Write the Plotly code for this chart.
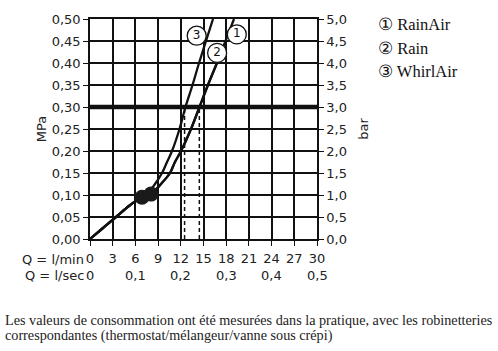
import plotly.graph_objects as go

# Flow rate Q (l/min) vs pressure P (MPa)
rainair_q = [0, 1.72, 3.44, 5.15, 5.95, 7.93, 9.38, 10.57, 11.23, 12.03, 13.35, 14.47, 15.59, 16.78, 17.91, 19.03]
rainair_p = [0, 0.025, 0.05, 0.075, 0.085, 0.10, 0.125, 0.15, 0.175, 0.20, 0.25, 0.30, 0.35, 0.40, 0.45, 0.50]
rain_q = [0, 1.72, 3.44, 5.15, 5.95, 7.93, 9.38, 10.57, 11.23, 12.03, 13.35, 14.47, 15.59, 16.78]
rain_p = [0, 0.025, 0.05, 0.075, 0.085, 0.10, 0.125, 0.15, 0.175, 0.20, 0.25, 0.30, 0.35, 0.40]
whirlair_q = [0, 1.72, 3.44, 5.15, 5.95, 7.40, 8.59, 9.52, 10.18, 10.84, 11.83, 12.62, 13.55, 14.41, 15.33, 16.26]
whirlair_p = [0, 0.025, 0.05, 0.075, 0.085, 0.10, 0.125, 0.15, 0.175, 0.20, 0.25, 0.30, 0.35, 0.40, 0.45, 0.50]

blob_q = [6.87, 8.06]
blob_p = [0.095, 0.102]

label_names = ["1", "2", "3"]
label_q = [19.4, 16.8, 14.1]
label_p = [0.465, 0.423, 0.462]

ref_pressure = 0.30
dashed_q = [12.5, 14.45]

lmin_ticks = [0, 3, 6, 9, 12, 15, 18, 21, 24, 27, 30]
lsec_pos = [0, 6, 12, 18, 24, 30]
lsec_labels = ["0", "0,1", "0,2", "0,3", "0,4", "0,5"]

legend_items = ["\u2460 RainAir", "\u2461 Rain", "\u2462 WhirlAir"]

note_lines = ["Les valeurs de consommation ont été mesurées dans la pratique, avec les robinetteries",
              "correspondantes (thermostat/mélangeur/vanne sous crépi)"]

INK = "#111111"
fig = go.Figure()

fig.add_trace(go.Scatter(x=[0, 30], y=[ref_pressure, ref_pressure], mode="lines",
                         line=dict(color=INK, width=4.5), hoverinfo="skip"))
for dq in dashed_q:
    fig.add_trace(go.Scatter(x=[dq, dq], y=[0, ref_pressure], mode="lines",
                             line=dict(color=INK, width=1.5, dash="4px,3px")))
for qq, pp in [(rainair_q, rainair_p), (rain_q, rain_p), (whirlair_q, whirlair_p)]:
    fig.add_trace(go.Scatter(x=qq, y=pp, mode="lines",
                             line=dict(color=INK, width=2.3, shape="spline", smoothing=1)))
fig.add_trace(go.Scatter(x=blob_q, y=blob_p, mode="markers",
                         marker=dict(size=15, color="#1a1a1a")))
fig.add_trace(go.Scatter(x=label_q, y=label_p, mode="markers+text", text=label_names,
                         textposition="middle center",
                         textfont=dict(family="DejaVu Sans", size=12, color=INK),
                         marker=dict(size=19, color="white", line=dict(color=INK, width=1.3))))
# invisible trace for bar axis
fig.add_trace(go.Scatter(x=[0, 30], y=[0, 5], yaxis="y2", mode="markers",
                         marker=dict(opacity=0), hoverinfo="skip"))

axfont = dict(family="DejaVu Sans", size=13, color="#222")
fig.update_layout(
    width=498, height=351,
    margin=dict(l=90, r=181, t=13, b=112),
    paper_bgcolor="white", plot_bgcolor="white",
    showlegend=False,
    separators=",.",
    xaxis=dict(range=[0, 30], tickvals=lmin_ticks, showgrid=True, gridcolor=INK, gridwidth=1.5,
               showline=True, linecolor=INK, linewidth=1.5, mirror=True, zeroline=False,
               ticks="outside", ticklen=5, tickcolor=INK, tickfont=axfont,
               ticklabelstandoff=2),
    yaxis=dict(range=[0, 0.5], dtick=0.05, tickformat=".2f", showgrid=True, gridcolor=INK,
               gridwidth=1.5, showline=True, linecolor=INK, linewidth=1.5, zeroline=False,
               ticks="outside", ticklen=5, tickcolor=INK, tickfont=axfont,
               title=dict(text="MPa", font=axfont, standoff=2)),
    yaxis2=dict(range=[0, 5], dtick=0.5, tickformat=".1f", overlaying="y", side="right",
                showgrid=False, showline=True, linecolor=INK, linewidth=1.5, zeroline=False,
                ticks="outside", ticklen=5, tickcolor=INK, tickfont=axfont,
                title=dict(text="bar", font=axfont, standoff=13)),
)

fig.add_annotation(text="Q = l/min", xref="paper", yref="paper", x=0, y=-0.093,
                   xanchor="right", yanchor="middle", xshift=-4, showarrow=False, font=axfont)
fig.add_annotation(text="Q = l/sec", xref="paper", yref="paper", x=0, y=-0.168,
                   xanchor="right", yanchor="middle", xshift=-4, showarrow=False, font=axfont)
for pos, lab in zip(lsec_pos, lsec_labels):
    fig.add_annotation(text=lab, xref="x", yref="paper", x=pos, y=-0.168,
                       xanchor="center", yanchor="middle", showarrow=False, font=axfont)

for i, item in enumerate(legend_items):
    fig.add_annotation(text=item, xref="paper", yref="paper", x=1.260, y=0.973 - i * 0.106,
                       xanchor="left", yanchor="middle", showarrow=False,
                       font=dict(family="Liberation Serif, DejaVu Serif", size=16.5, color="#111"))

for i, line in enumerate(note_lines):
    fig.add_annotation(text=line, xref="paper", yref="paper", x=-0.385, y=-0.367 - i * 0.071,
                       xanchor="left", yanchor="middle", align="left", showarrow=False,
                       font=dict(family="Liberation Serif", size=14.2, color="#222"))

fig.write_html("out.html")
